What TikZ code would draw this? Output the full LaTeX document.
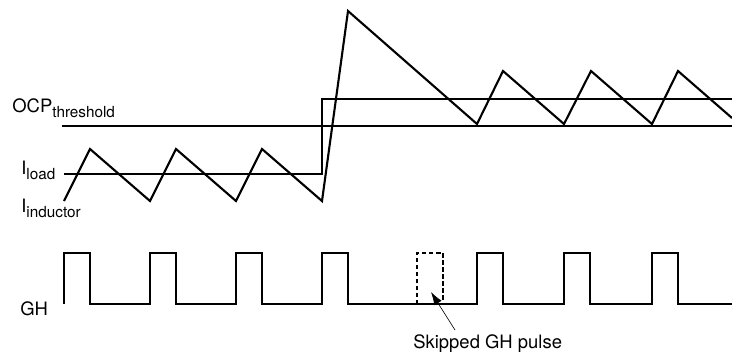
\documentclass[tikz,border=0pt]{standalone}
\usepackage{fontspec}
\setmainfont{TeX Gyre Heros}
\usepackage{tikz}
\usetikzlibrary{positioning,arrows.meta}
\newcommand{\subtxt}[1]{\raisebox{-3.4pt}{\fontsize{8.7}{10}\selectfont #1}}

\begin{document}
\begin{tikzpicture}[x=0.02cm, y=-0.02cm,
        wave/.style={line width=1.2pt},
        lbl/.style={anchor=base west, inner sep=0pt, font=\fontsize{10.5}{12}\selectfont}]
        \useasboundingbox (0,0) rectangle (732,353);
        % labels
        \node[lbl] (ocp) at (12,112) {OCP\subtxt{threshold}};
        \node[lbl] (load) at (21,174) {I\subtxt{load}};
        \node[lbl] (ind) at (21,212) {I\subtxt{inductor}};
        \node[lbl] (gh) at (20,315) {GH};
        \node[lbl] (skip) at (413,348) {Skipped GH pulse};
        % threshold and load
        \draw[wave] (62,126) -- (732,126);
        \draw[wave] (64,174) -- (322,174) -- (322,99) -- (732,99);
        % inductor current
        \draw[wave] (64,201) -- (90,149) -- (150,201) -- (176,149) -- (236,201)
            -- (262,149) -- (322,201) -- (348,11) -- (477,124) -- (503,71)
            -- (564,124) -- (591,71) -- (652,124) -- (678,71) -- (732,118);
        % gate drive
        \draw[wave] (64,304) \foreach \x in {64,150,236,322,477,564,652}
            {-- (\x,304) -- (\x,253) -- ++(26,0) -- ++(0,51)} -- (732,304);
        \draw[wave, dash pattern=on 2.4pt off 1.6pt] (417,304) -- (417,253) -- (443,253) -- (443,304);
        % pointer
        \coordinate (tail) at (455,330);
        \coordinate (tip) at (431,292);
        \draw[line width=0.35pt, -{Latex[length=2.6mm,width=1.7mm]}] (tail) -- (tip);
    \end{tikzpicture}
\end{document}
